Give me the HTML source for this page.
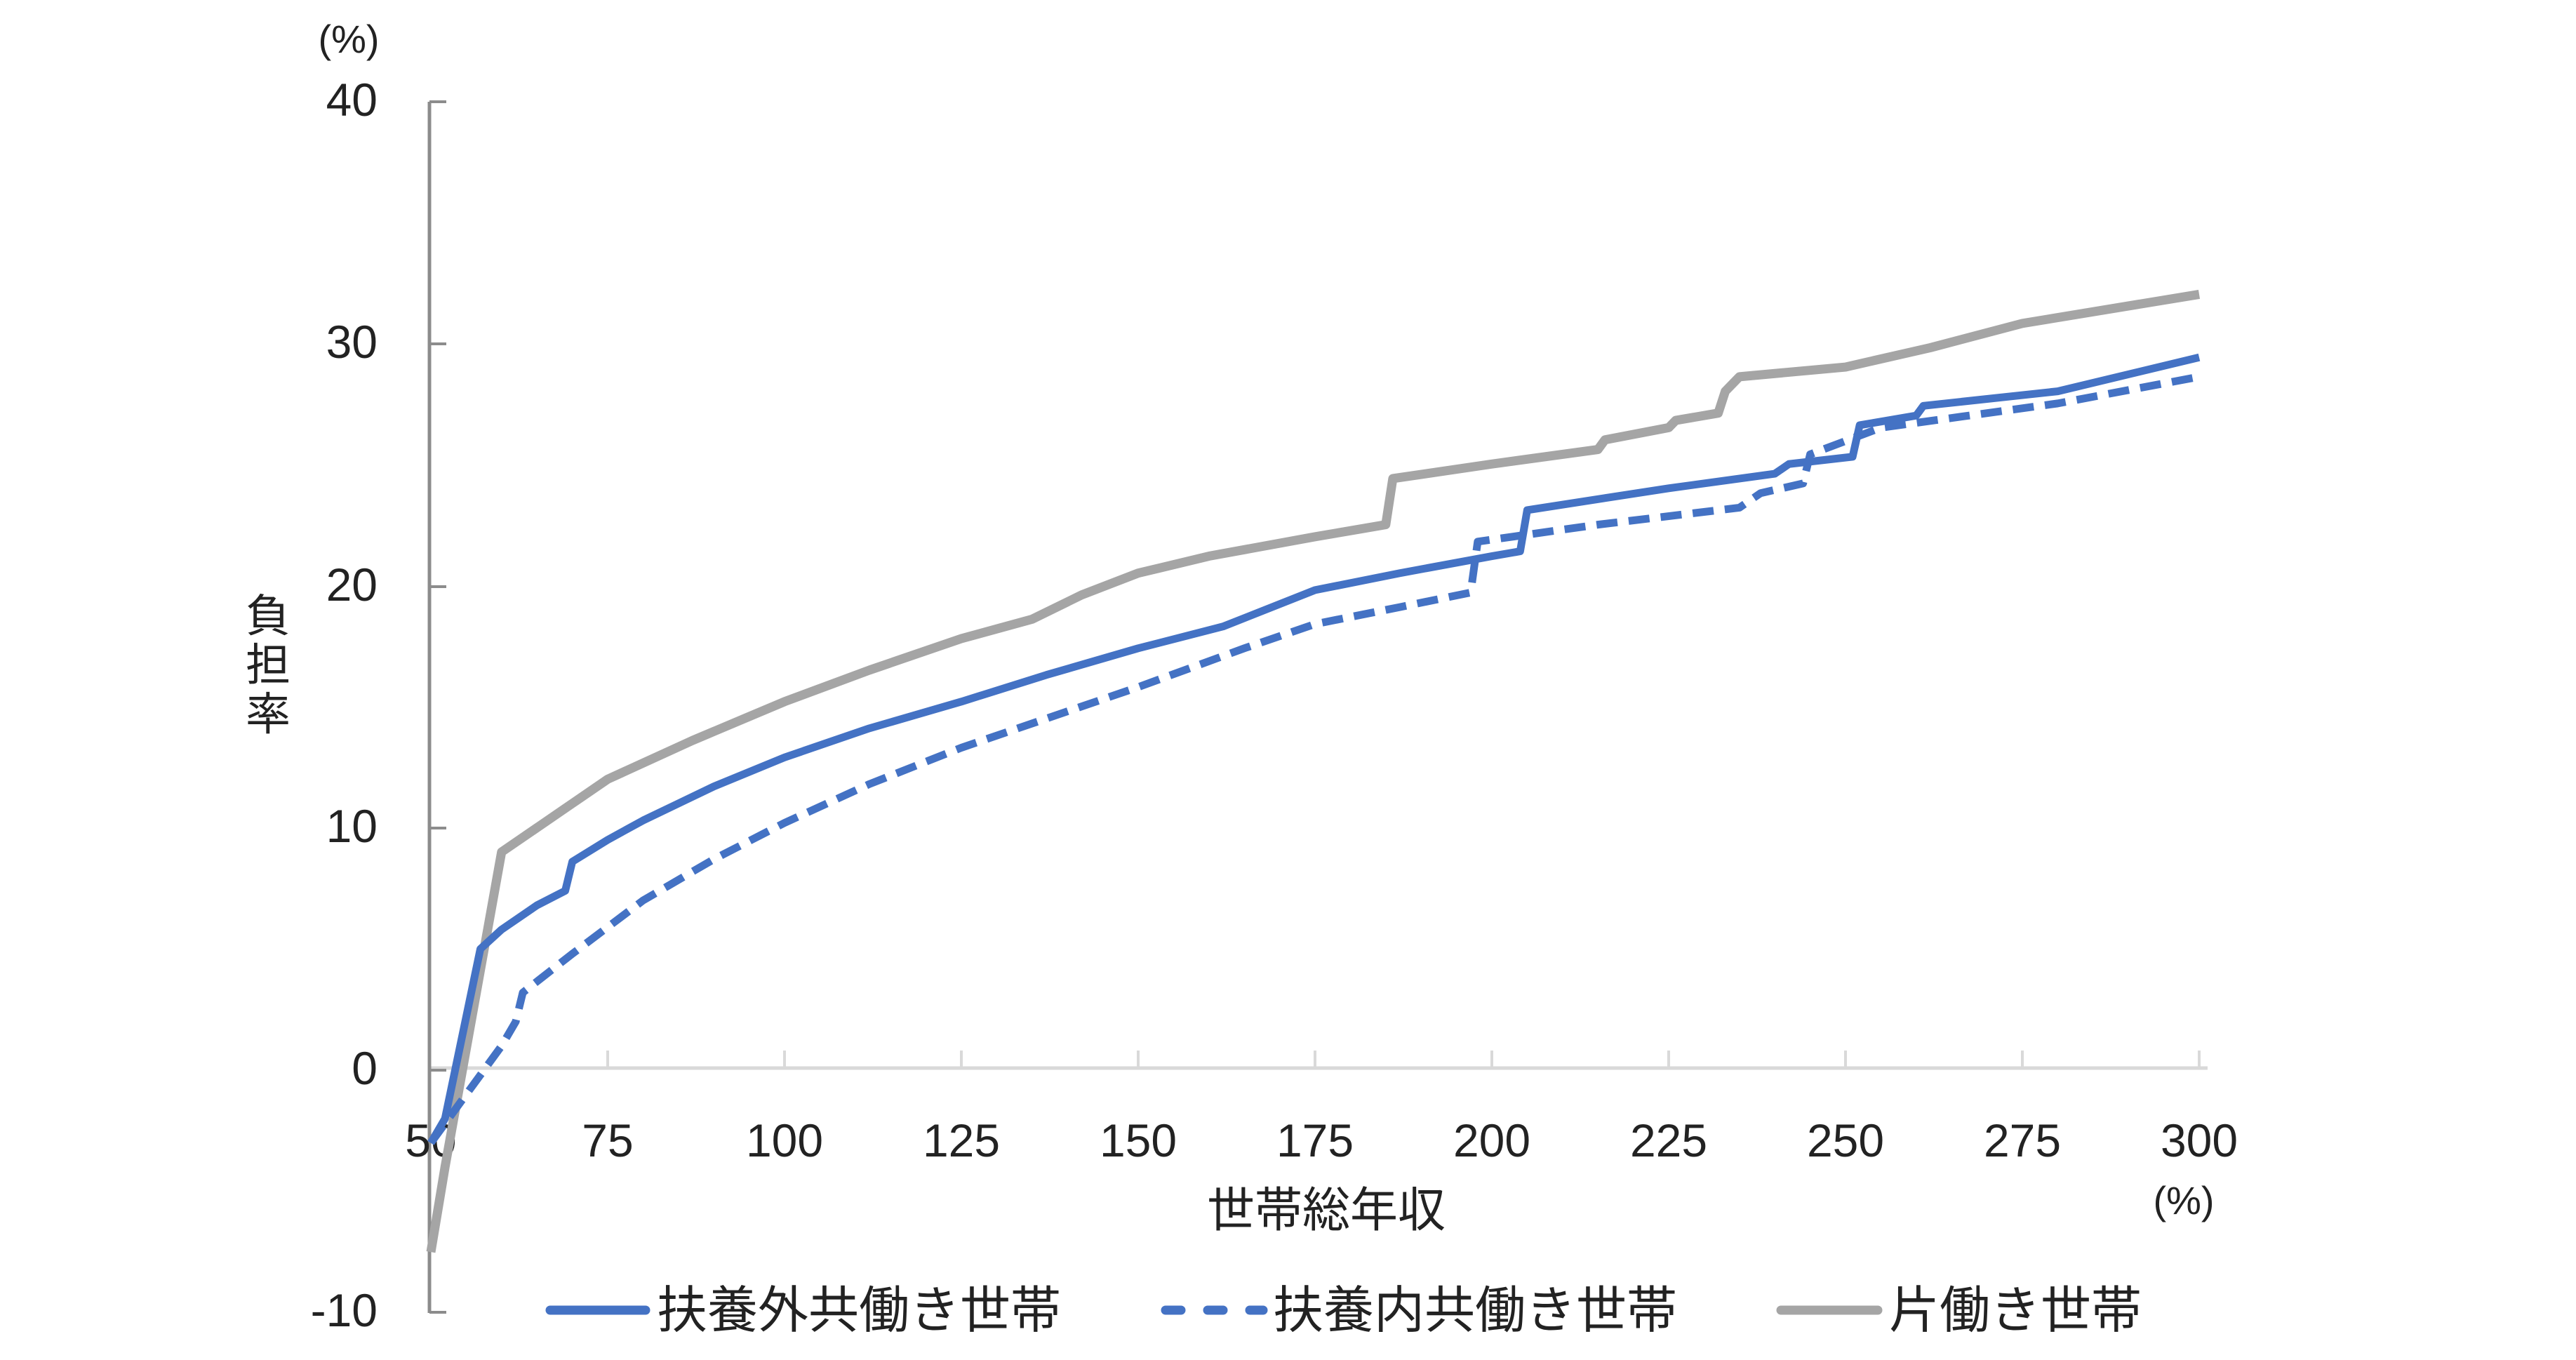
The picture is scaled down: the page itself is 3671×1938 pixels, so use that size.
<!DOCTYPE html>
<html><head><meta charset="utf-8"><style>
html,body{margin:0;padding:0;background:#fff;}
svg{display:block;}
text{font-family:"Liberation Sans","Noto Sans CJK JP",sans-serif;fill:#222;}
</style></head><body>
<svg width="3671" height="1938" viewBox="0 0 3671 1938" xmlns="http://www.w3.org/2000/svg">
<line x1="614" y1="1522" x2="3146" y2="1522" stroke="#d9d9d9" stroke-width="5"/>
<g stroke="#d9d9d9" stroke-width="4">
<line x1="866" y1="1497" x2="866" y2="1522"/><line x1="1118" y1="1497" x2="1118" y2="1522"/>
<line x1="1370" y1="1497" x2="1370" y2="1522"/><line x1="1622" y1="1497" x2="1622" y2="1522"/>
<line x1="1874" y1="1497" x2="1874" y2="1522"/><line x1="2126" y1="1497" x2="2126" y2="1522"/>
<line x1="2378" y1="1497" x2="2378" y2="1522"/><line x1="2630" y1="1497" x2="2630" y2="1522"/>
<line x1="2882" y1="1497" x2="2882" y2="1522"/><line x1="3134" y1="1497" x2="3134" y2="1522"/>
</g>
<line x1="612" y1="145" x2="612" y2="1871" stroke="#8c8c8c" stroke-width="5"/>
<g stroke="#8c8c8c" stroke-width="4">
<line x1="612" y1="145" x2="636" y2="145"/><line x1="612" y1="490" x2="636" y2="490"/>
<line x1="612" y1="836" x2="636" y2="836"/><line x1="612" y1="1180" x2="636" y2="1180"/>
<line x1="612" y1="1525" x2="636" y2="1525"/><line x1="612" y1="1870" x2="636" y2="1870"/>
</g>
<g font-size="66" text-anchor="end">
<text x="538" y="165">40</text><text x="538" y="510">30</text><text x="538" y="856">20</text>
<text x="538" y="1200">10</text><text x="538" y="1545">0</text><text x="538" y="1890">-10</text>
</g>
<g font-size="66" text-anchor="middle">
<text x="614" y="1648">50</text><text x="866" y="1648">75</text><text x="1118" y="1648">100</text>
<text x="1370" y="1648">125</text><text x="1622" y="1648">150</text><text x="1874" y="1648">175</text>
<text x="2126" y="1648">200</text><text x="2378" y="1648">225</text><text x="2630" y="1648">250</text>
<text x="2882" y="1648">275</text><text x="3134" y="1648">300</text>
</g>
<text x="497" y="75" font-size="56" text-anchor="middle">(%)</text>
<text x="3112" y="1730" font-size="56" text-anchor="middle">(%)</text>
<text x="1890" y="1748" font-size="68" text-anchor="middle">世帯総年収</text>
<g font-size="64" text-anchor="middle">
<text x="382" y="900">負</text><text x="382" y="970">担</text><text x="382" y="1040">率</text>
</g>
<g transform="matrix(10.08,0,0,-34.55,110,1525)" fill="none" stroke-linejoin="round">
<polyline vector-effect="non-scaling-stroke" stroke="#A5A5A5" stroke-width="13" points="50,-7.5 52,-4 60,9 65,10 70,11 75,12 87,13.6 100,15.2 112,16.5 125,17.8 135,18.6 142,19.6 150,20.5 160,21.2 175,22 185,22.5 186,24.4 200,25 215,25.6 216,26 225,26.5 226,26.8 232,27.1 233,28 235,28.6 250,29 262,29.8 275,30.8 300,32"/>
<polyline vector-effect="non-scaling-stroke" stroke="#4472C4" stroke-width="11" stroke-dasharray="30,16" points="50,-3 55,-1 60,1 62,2 63,3.2 70,4.8 75,5.9 80,7 90,8.7 100,10.2 112,11.8 125,13.3 137,14.5 150,15.8 165,17.4 175,18.4 187,19.1 197,19.7 198,21.8 215,22.5 235,23.2 238,23.8 244,24.2 245,25.4 255,26.5 280,27.5 300,28.6"/>
<polyline vector-effect="non-scaling-stroke" stroke="#4472C4" stroke-width="11" points="50,-3 52,-2 57,5 60,5.8 65,6.8 69,7.4 70,8.6 75,9.5 80,10.3 90,11.7 100,12.9 112,14.1 125,15.2 137,16.3 150,17.4 162,18.3 175,19.8 187,20.5 200,21.2 204,21.4 205,23.1 225,24 240,24.6 242,25 251,25.3 252,26.6 260,27 261,27.4 280,28 300,29.4"/>
</g>
<line x1="784" y1="1867" x2="920" y2="1867" stroke="#4472C4" stroke-width="13" stroke-linecap="round"/>
<text x="936" y="1892" font-size="72">扶養外共働き世帯</text>
<line x1="1661" y1="1867" x2="1800" y2="1867" stroke="#4472C4" stroke-width="13" stroke-linecap="round" stroke-dasharray="22,38"/>
<text x="1814" y="1892" font-size="72">扶養内共働き世帯</text>
<line x1="2538" y1="1867" x2="2676" y2="1867" stroke="#A5A5A5" stroke-width="13" stroke-linecap="round"/>
<text x="2692" y="1892" font-size="72">片働き世帯</text>
</svg>
</body></html>
